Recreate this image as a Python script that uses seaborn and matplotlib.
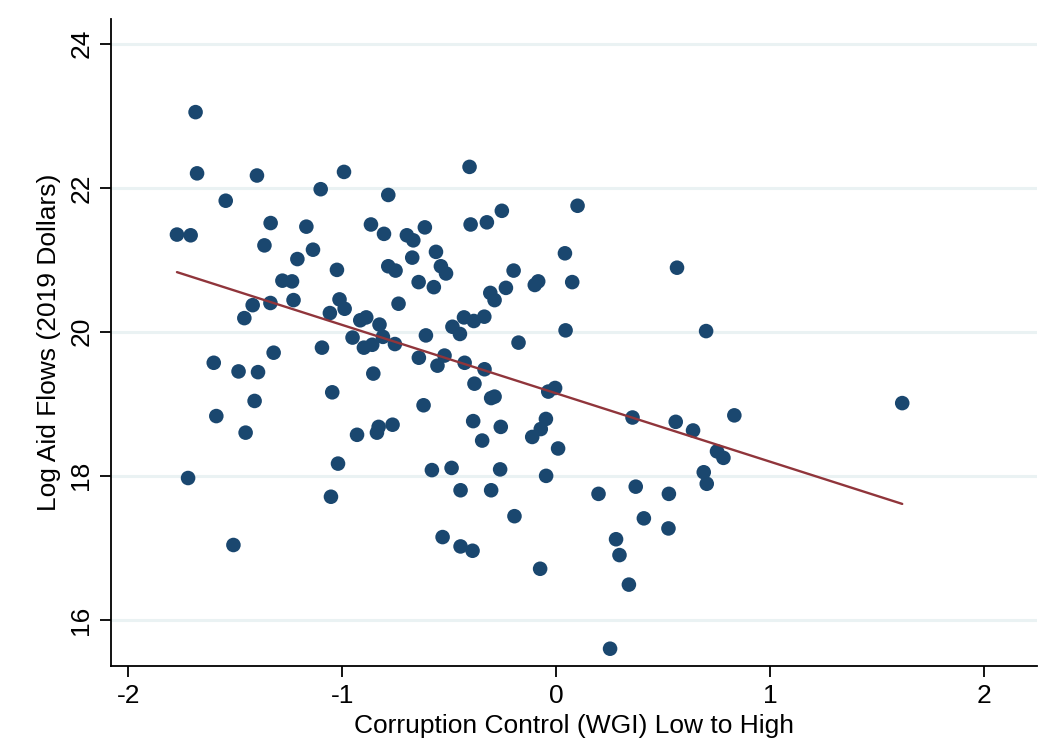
import matplotlib
matplotlib.use("Agg")
import matplotlib.pyplot as plt
import seaborn as sns
import pandas as pd

# Corruption control score (WGI) for each recipient country
corruption_control = [
    -1.686, -1.679, -1.399, -0.992, -1.101, -1.545, -1.773, -1.709, -1.335, -1.168,
    -1.364, -1.137, -1.210, -1.025, -1.280, -1.235, -1.228, -1.013, -0.989, -1.058,
    -1.336, -1.419, -1.458, -0.952, -1.095, -1.321, -1.601, -1.485, -1.394, -1.047,
    -1.410, -1.589, -1.452, -1.020, -1.721, -1.053, -1.509, -0.405, -0.785, -0.254,
    0.100, -0.866, -0.400, -0.324, -0.805, -0.698, -0.668, -0.614, -0.562, -0.673,
    -0.785, -0.751, -0.539, -0.515, -0.643, -0.572, -0.199, -0.235, -0.308, -0.288,
    0.041, -0.100, -0.084, 0.075, -0.737, -0.916, -0.888, -0.826, -0.431, -0.385,
    -0.336, -0.485, -0.450, -0.609, 0.044, -0.176, -0.810, -0.899, -0.860, -0.754,
    -0.642, -0.522, -0.555, -0.428, -0.335, -0.855, -0.382, -0.037, -0.005, -0.304,
    -0.288, -0.620, -0.388, -0.259, -0.048, -0.072, -0.112, 0.009, -0.346, -0.931,
    -0.830, -0.838, -0.765, -0.581, -0.489, -0.262, -0.047, -0.447, -0.304, -0.195,
    -0.531, -0.447, -0.391, -0.075, 0.565, 0.701, 0.357, 0.559, 0.640, 0.833,
    0.752, 0.782, 0.690, 0.704, 0.198, 0.372, 0.527, 0.410, 0.525, 0.280,
    0.296, 0.340, 0.252, 1.618,
]

# Log of aid received, constant 2019 dollars
log_aid = [
    23.05, 22.20, 22.17, 22.22, 21.98, 21.82, 21.35, 21.34, 21.51, 21.46,
    21.20, 21.14, 21.01, 20.86, 20.71, 20.70, 20.44, 20.45, 20.32, 20.26,
    20.40, 20.37, 20.19, 19.92, 19.78, 19.71, 19.57, 19.45, 19.44, 19.16,
    19.04, 18.83, 18.60, 18.17, 17.97, 17.71, 17.04, 22.29, 21.90, 21.68,
    21.75, 21.49, 21.49, 21.52, 21.36, 21.34, 21.27, 21.45, 21.11, 21.03,
    20.91, 20.85, 20.91, 20.81, 20.69, 20.62, 20.85, 20.61, 20.54, 20.44,
    21.09, 20.65, 20.70, 20.69, 20.39, 20.16, 20.20, 20.10, 20.20, 20.15,
    20.21, 20.07, 19.97, 19.95, 20.02, 19.85, 19.93, 19.78, 19.82, 19.83,
    19.64, 19.67, 19.53, 19.57, 19.48, 19.42, 19.28, 19.17, 19.22, 19.08,
    19.10, 18.98, 18.76, 18.68, 18.79, 18.65, 18.54, 18.38, 18.49, 18.57,
    18.68, 18.60, 18.71, 18.08, 18.11, 18.09, 18.00, 17.80, 17.80, 17.44,
    17.15, 17.02, 16.96, 16.71, 20.89, 20.01, 18.81, 18.75, 18.63, 18.84,
    18.34, 18.25, 18.05, 17.89, 17.75, 17.85, 17.75, 17.41, 17.27, 17.12,
    16.90, 16.49, 15.60, 19.01,
]

x_ticks = [-2, -1, 0, 1, 2]
y_ticks = [16, 18, 20, 22, 24]

df = pd.DataFrame({"wgi": corruption_control, "aid": log_aid})

sns.set_theme(style="white")
plt.rcParams["font.family"] = ["Liberation Sans", "DejaVu Sans"]
plt.rcParams["text.color"] = "black"
plt.rcParams["axes.labelcolor"] = "black"
plt.rcParams["xtick.color"] = "black"
plt.rcParams["ytick.color"] = "black"

fig = plt.figure(figsize=(10.5, 7.4), dpi=100)
ax = fig.add_axes([0.106, 0.1, 0.882, 0.875])

for t in y_ticks:
    ax.axhline(t, color="#eaf2f3", lw=2.2, zorder=0)

sns.scatterplot(data=df, x="wgi", y="aid", ax=ax, color="#1a476f",
                s=110, edgecolor="none", linewidth=0, zorder=2)
sns.regplot(data=df, x="wgi", y="aid", ax=ax, scatter=False, ci=None,
            line_kws={"color": "#90353b", "lw": 1.7, "zorder": 3})

ax.set_xlim(-2.08, 2.25)
ax.set_ylim(15.36, 24.35)
ax.set_xticks(x_ticks)
ax.set_xticklabels([str(v) for v in x_ticks])
ax.set_yticks(y_ticks)
ax.set_yticklabels([str(v) for v in y_ticks], rotation=90, va="center")

for side in ("top", "right"):
    ax.spines[side].set_visible(False)
for side in ("left", "bottom"):
    ax.spines[side].set_color("black")
    ax.spines[side].set_linewidth(1.3)

ax.tick_params(axis="both", which="major", direction="out", length=8,
               width=1.3, color="black", labelcolor="black", labelsize=19,
               pad=5, bottom=True, left=True)

ax.set_xlabel("Corruption Control (WGI) Low to High", fontsize=19, labelpad=4)
ax.set_ylabel("Log Aid Flows (2019 Dollars)", fontsize=19, labelpad=6)

fig.savefig("out.png", dpi=100, facecolor="white")
